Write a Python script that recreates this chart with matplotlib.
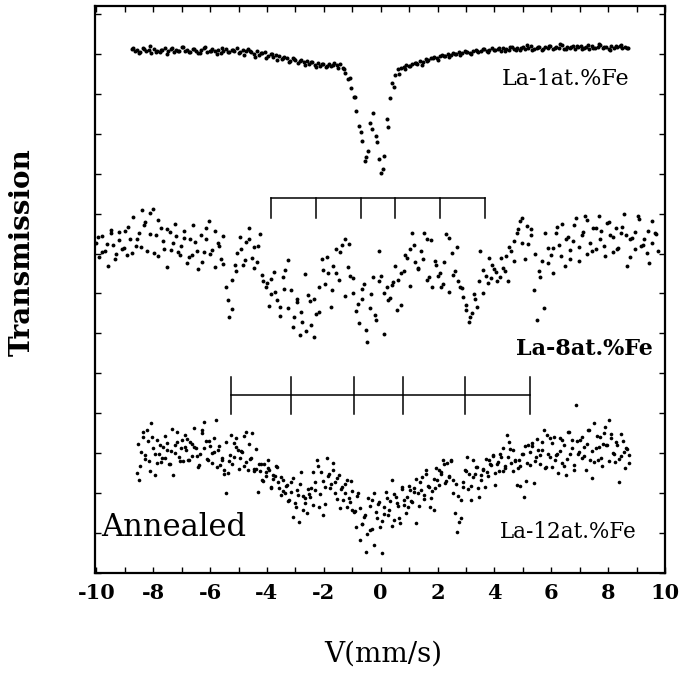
import numpy as np
import matplotlib
matplotlib.use("Agg")
import matplotlib.pyplot as plt
from matplotlib.ticker import MultipleLocator

plt.rcParams["font.family"] = "DejaVu Serif"
plt.rcParams["axes.unicode_minus"] = False

# velocity span of each sweep (mm/s); each spectrum has two sweeps (A, B)
V_1AT = (-8.75, 8.70)
V_1AT_B = (-8.70, 8.65)
V_8AT = (-10.0, 9.75)
V_8AT_B = (-9.95, 9.70)
V_12AT = (-8.57, 8.74)
V_12AT_B = (-8.55, 8.72)

# relative transmission (%), La-1at.%Fe
T_1AT = [
    99.8, 99.6, 99.7, 99.5, 99.9, 99.6, 99.7, 99.4, 99.8, 99.6,
    99.5, 99.7, 99.9, 99.6, 99.8, 99.5, 99.7, 99.6, 100.0, 99.6,
    99.7, 99.5, 99.8, 99.6, 99.4, 99.7, 99.9, 99.5, 99.6, 99.8,
    99.6, 99.7, 99.4, 99.6, 99.8, 99.5, 99.7, 99.6, 99.9, 99.5,
    99.7, 99.6, 99.8,
    99.5, 99.3, 99.6, 99.2, 99.4, 99.5, 99.1, 99.3, 99.0, 99.2,
    99.1, 98.8, 99.0, 98.9, 98.6, 98.9, 98.7, 98.4, 98.7, 98.5,
    98.6, 98.3, 98.5, 98.2, 98.4, 98.1, 98.3, 98.0, 98.3, 98.1,
    98.4, 98.2,
    98.3, 97.9, 97.4, 96.8, 95.9,
    95.0, 93.6, 92.1, 90.6, 88.6, 89.6, 92.4, 93.4, 91.1, 88.8,
    87.4, 89.1, 92.8, 94.9, 96.4, 97.2, 97.8,
    97.9, 98.0, 98.2, 98.1, 98.3, 98.4, 98.3, 98.6, 98.5, 98.8,
    98.7, 98.9, 99.0, 98.9, 99.1, 99.2, 99.1,
    99.3, 99.2, 99.4, 99.3, 99.5, 99.4, 99.6, 99.5, 99.4, 99.6,
    99.7, 99.5, 99.6, 99.8, 99.6, 99.7, 99.9, 99.7, 99.8, 99.6,
    99.9, 99.8, 99.7, 100.0, 99.8, 99.9, 99.7, 100.0, 99.8, 99.9,
    100.1, 99.8, 99.9, 100.0, 99.7, 100.0, 99.9, 100.1, 99.8, 100.0,
    99.9, 100.2, 99.8, 100.0, 99.9, 100.1, 99.8, 100.0, 100.1, 99.9,
    100.0, 99.8, 100.1, 99.9, 100.0, 100.2, 99.9, 100.0, 99.8, 100.1,
    99.9, 100.0, 100.1, 99.9, 100.0, 99.9,
]
T_1AT_B = [
    99.9, 99.4, 99.8, 100.1, 99.5, 99.7, 99.3, 99.9, 99.6, 100.0,
    99.5, 99.8, 99.4, 100.0, 99.6, 99.3, 99.9, 99.5, 99.7, 99.4,
    99.2, 99.6, 99.0, 99.4, 98.9, 99.3, 98.7, 98.9, 98.5, 98.8,
    98.6, 98.2, 98.5, 98.0, 98.3, 98.1, 98.2, 97.9, 97.8, 96.9,
    95.0, 91.5, 89.0, 91.8, 90.5, 87.8, 92.0, 96.0, 97.3, 97.8,
    98.1, 98.4, 98.2, 98.6, 98.9, 98.7, 99.1, 99.0, 99.3, 99.2,
    99.5, 99.3, 99.6, 99.8, 99.5, 99.7, 99.9, 99.6, 100.0, 99.7,
    99.9, 100.2, 99.7, 100.0, 99.8, 100.1, 99.9, 100.3, 99.8, 100.0,
    100.1, 99.8, 100.2, 99.9, 100.3, 100.0, 99.7, 100.1, 100.2, 99.9,
]

# relative transmission (%), La-8at.%Fe
T_8AT = [
    99.8, 98.4, 100.5, 99.0, 97.5, 100.8, 99.6, 98.7, 100.9, 99.2,
    101.0, 98.6, 100.2, 102.4, 99.5, 100.8, 103.1, 101.6, 99.0, 102.8,
    103.2, 100.6, 98.5, 101.3, 99.2, 97.4, 100.9, 99.8, 101.7, 98.9,
    99.5, 101.0, 97.8, 100.2, 98.6, 99.9, 97.2, 100.6, 98.9, 101.3,
    102.0, 99.1, 97.4, 99.8, 98.2, 100.5, 95.3, 92.3, 96.1, 97.6,
    98.8, 100.4, 97.6, 99.9, 101.3, 98.3, 99.4, 97.9, 100.7, 96.0,
    95.3, 93.4, 94.6, 96.9, 94.0, 93.3, 96.4, 97.1, 98.1, 95.0,
    92.3, 93.8, 90.5, 91.8, 96.7, 94.5, 91.5, 90.3, 92.6, 95.3,
    98.2, 95.6, 96.8, 93.3, 97.5, 99.2, 96.1, 99.6, 100.2, 97.4,
    96.5, 94.7, 92.9, 91.7, 94.1, 95.6, 89.8, 93.2, 96.4, 92.0,
    99.0, 96.5, 94.7, 95.3, 94.2, 95.9, 97.5, 96.1, 93.5, 97.0,
    98.3, 99.2, 100.8, 97.9, 97.2, 99.0, 100.8, 100.2, 96.4, 95.3,
    98.0, 96.5, 95.3, 95.7, 100.7, 100.3, 98.8, 97.0, 96.0, 95.3,
    94.3, 93.5, 91.8, 92.7, 94.6, 93.3, 99.0, 94.7, 96.5, 98.3,
    96.3, 97.2, 96.0, 96.4, 97.3, 98.5, 96.0, 99.0, 100.0, 100.8,
    102.0, 102.3, 98.2, 99.7, 101.2, 95.0, 92.0, 97.0, 98.0, 100.8,
    99.3, 98.6, 96.8, 100.8, 99.6, 101.7, 97.5, 100.4, 98.2, 100.0,
    102.3, 98.0, 100.6, 102.5, 98.7, 99.8, 101.3, 99.2, 102.5, 101.0,
    99.5, 101.8, 100.6, 98.9, 101.3, 99.3, 100.8, 102.7, 97.5, 100.2,
    100.3, 99.2, 102.5, 99.5, 100.2, 98.8, 97.8, 102.0, 100.8, 99.0,
]
T_8AT_B = [
    100.4, 98.9, 99.7, 101.1, 98.2, 100.1, 99.3, 101.4, 98.8, 100.2,
    99.4, 101.9, 100.7, 98.8, 102.1, 100.0, 101.2, 99.1, 100.5, 98.6,
    100.3, 98.4, 101.6, 99.0, 97.9, 100.2, 98.7, 101.0, 99.5, 97.7,
    94.0, 93.1, 97.0, 99.2, 98.1, 100.2, 97.3, 99.5, 96.6, 95.8,
    96.2, 94.8, 92.4, 95.1, 93.2, 91.3, 94.1, 92.8, 90.9, 93.9,
    94.1, 92.8, 97.1, 98.4, 95.0, 96.8, 98.9, 94.4, 99.7, 96.3,
    93.6, 95.1, 91.0, 94.6, 92.5, 96.0, 90.6, 94.0, 95.5, 93.0,
    96.8, 98.6, 95.4, 99.6, 97.3, 98.2, 96.1, 100.1, 97.6, 96.8,
    97.9, 94.8, 96.6, 99.4, 95.2, 93.0, 92.3, 94.1, 96.0, 97.1,
    95.8, 97.6, 96.9, 98.3, 97.0, 99.4, 98.0, 101.2, 99.8, 101.5,
    100.6, 98.7, 96.4, 93.2, 97.8, 99.3, 101.4, 98.5, 100.2, 99.1,
    101.6, 99.4, 100.9, 102.1, 99.0, 101.3, 100.2, 98.5, 101.9, 100.4,
    99.2, 101.4, 100.6, 98.4, 100.9, 102.2, 99.6, 101.0, 99.8, 100.7,
]

# relative transmission (%), La-12at.%Fe, annealed
T_12AT = [
    97.7, 97.0, 99.8, 101.3, 99.5, 102.0, 98.9, 102.7, 100.2, 97.5,
    101.0, 99.6, 98.8, 100.3, 99.2, 100.7, 98.6, 99.9, 97.5, 100.5,
    101.8, 99.3, 100.2, 98.9, 101.5, 100.0, 99.0, 100.8, 99.4, 100.3,
    100.2, 98.3, 99.6, 102.0, 102.8, 100.9, 99.0, 100.4, 98.7, 99.8,
    103.0, 100.0, 98.5, 99.2, 98.0, 95.7, 97.7, 99.5, 98.6, 100.7,
    101.2, 100.0, 99.2, 99.8, 98.4, 101.8, 98.0, 99.1, 101.7, 98.1,
    98.1, 95.8, 97.9, 97.0, 98.6, 97.4, 98.2, 98.0, 96.3, 97.1,
    97.4, 98.3, 96.2, 95.5, 97.0, 95.7, 96.5, 95.0, 96.8, 93.3,
    94.7, 96.0, 92.8, 97.8, 95.4, 94.7, 93.7, 95.6, 96.2, 94.5,
    96.8, 99.0, 94.3, 97.8, 93.5, 96.3, 99.2, 97.6, 96.6, 98.7,
    95.7, 97.2, 97.5, 96.1, 95.0, 96.6, 94.3, 95.2, 96.9, 94.0,
    93.8, 92.3, 95.7, 91.0, 92.6, 93.3, 89.8, 95.2, 92.0, 95.0,
    95.7, 93.8, 94.6, 92.3, 89.7, 94.3, 95.8, 93.5, 94.9, 97.0,
    93.0, 95.3, 94.4, 92.7, 96.3, 95.0, 93.7, 94.3, 96.0, 94.8,
    96.2, 92.7, 95.7, 96.8, 97.3, 95.5, 98.0, 96.4, 94.3, 95.9,
    94.0, 96.2, 97.0, 98.0, 97.6, 99.0, 96.7, 98.7, 97.3, 99.0,
    95.7, 93.7, 91.8, 92.8, 95.0, 96.3, 98.0, 99.3, 97.6, 96.4,
    99.0, 97.6, 98.3, 95.3, 97.0, 98.1, 96.3, 97.8, 99.0, 98.5,
    99.5, 96.5, 98.6, 97.9, 99.3, 100.2, 98.2, 101.5, 100.8, 98.7,
    100.0, 98.9, 96.5, 99.0, 98.4, 99.6, 95.3, 96.9, 100.5, 98.5,
    100.7, 96.7, 99.3, 100.0, 98.6, 100.8, 102.0, 98.3, 99.6, 101.2,
    98.3, 101.3, 99.5, 97.7, 99.9, 101.0, 98.4, 97.5, 101.8, 99.6,
    101.0, 98.0, 104.5, 99.6, 101.0, 99.2, 100.3, 98.0, 102.0, 99.0,
    97.2, 102.7, 100.2, 99.0, 101.3, 98.4, 100.6, 102.3, 100.5, 103.0,
    101.6, 99.7, 98.8, 100.5, 96.8, 99.4, 100.9, 98.2, 100.1, 99.5,
]
T_12AT_B = [
    100.6, 98.4, 101.8, 99.1, 100.9, 97.9, 101.3, 99.6, 98.7, 100.5,
    99.2, 101.4, 100.0, 98.6, 102.1, 99.7, 100.8, 98.9, 101.0, 100.3,
    101.1, 99.0, 100.6, 102.2, 99.4, 98.5, 101.7, 100.2, 99.1, 100.9,
    99.7, 101.2, 98.3, 100.4, 99.0, 97.6, 100.8, 98.9, 101.5, 99.3,
    100.3, 98.1, 99.9, 101.4, 98.8, 100.6, 99.2, 97.9, 100.1, 98.6,
    98.6, 96.9, 97.8, 99.0, 96.2, 97.5, 98.4, 96.8, 97.3, 95.9,
    96.4, 94.9, 95.8, 97.2, 94.3, 95.5, 96.6, 94.0, 95.2, 96.1,
    95.3, 97.8, 96.0, 98.4, 95.6, 96.9, 94.6, 97.4, 96.2, 98.0,
    96.8, 95.1, 94.2, 96.3, 95.7, 97.0, 94.8, 95.9, 93.9, 95.4,
    94.2, 92.6, 93.5, 91.6, 94.4, 92.1, 90.5, 93.2, 94.8, 92.9,
    93.6, 95.2, 94.0, 92.4, 95.6, 94.7, 93.2, 96.1, 94.5, 95.3,
    96.4, 94.9, 95.8, 97.1, 94.4, 96.0, 95.1, 97.6, 96.3, 95.2,
    97.1, 98.2, 96.5, 97.8, 98.6, 96.9, 97.4, 98.9, 97.0, 96.6,
    95.4, 93.2, 96.8, 97.9, 96.1, 95.0, 97.3, 98.3, 96.2, 97.5,
    98.0, 99.1, 97.4, 98.6, 99.4, 97.7, 98.8, 99.6, 97.9, 98.4,
    99.3, 100.1, 97.9, 99.0, 98.2, 96.4, 99.6, 100.4, 98.7, 99.8,
    100.4, 98.9, 101.1, 99.5, 100.0, 98.2, 101.5, 99.3, 100.7, 99.0,
    99.6, 101.2, 98.7, 100.5, 99.1, 101.8, 100.2, 98.5, 100.9, 99.8,
    101.3, 99.4, 100.6, 102.0, 99.9, 98.8, 101.4, 100.3, 99.2, 101.7,
    100.5, 98.9, 101.2, 99.6, 100.8, 99.1, 101.6, 99.8, 100.2, 98.7,
]

# sextet line positions (mm/s)
LINES_8AT = [-3.85, -2.27, -0.70, 0.52, 2.10, 3.67]
LINES_12AT = [-5.28, -3.15, -0.94, 0.80, 2.97, 5.24]

# vertical stacking of the three spectra
OFF_1AT = -47.3
OFF_8AT = -66.7
OFF_12AT = -87.7

fig = plt.figure(figsize=(6.81, 6.73), dpi=100)
ax = fig.add_axes([0.1395, 0.1486, 0.837, 0.8425])

sweeps = [
    (V_1AT, T_1AT, OFF_1AT, 2.9),
    (V_1AT_B, T_1AT_B, OFF_1AT, 2.9),
    (V_8AT, T_8AT, OFF_8AT, 2.8),
    (V_8AT_B, T_8AT_B, OFF_8AT, 2.8),
    (V_12AT, T_12AT, OFF_12AT, 2.6),
    (V_12AT_B, T_12AT_B, OFF_12AT, 2.6),
]
for (v0, v1), t, off, ms in sweeps:
    v = np.linspace(v0, v1, len(t))
    ax.plot(v, np.array(t) + off, "o", color="black", ms=ms, mew=0)

# line-position combs
comb_y = 104.3 + OFF_8AT
ax.plot([LINES_8AT[0], LINES_8AT[-1]], [comb_y, comb_y], color="black", lw=1.1)
for p in LINES_8AT:
    ax.plot([p, p], [comb_y, comb_y - 2.0], color="black", lw=1.1)

comb_y = 105.5 + OFF_12AT
ax.plot([LINES_12AT[0], LINES_12AT[-1]], [comb_y, comb_y], color="black", lw=1.1)
for p in LINES_12AT:
    ax.plot([p, p], [comb_y - 1.9, comb_y + 1.8], color="black", lw=1.1)

ax.set_xlim(-10.05, 9.9)
ax.set_ylim(0, 56.8)
ax.set_xticks(np.arange(-10, 11, 2))
ax.xaxis.set_minor_locator(MultipleLocator(1))
ax.yaxis.set_major_locator(MultipleLocator(4))
ax.set_yticklabels([])
ax.tick_params(axis="both", which="both", direction="in", top=True, right=True,
               length=4, width=1)
ax.tick_params(axis="x", pad=7, labelsize=15)
for lab in ax.get_xticklabels():
    lab.set_fontweight("bold")
for s in ax.spines.values():
    s.set_linewidth(1.6)

ax.text(8.74, 49.5, "La-1at.%Fe", ha="right", va="center", fontsize=16)
ax.text(9.58, 22.4, "La-8at.%Fe", ha="right", va="center", fontsize=16,
        fontweight="semibold")
ax.text(8.99, 4.1, "La-12at.%Fe", ha="right", va="center", fontsize=15.5)
ax.text(-9.83, 4.6, "Annealed", ha="left", va="center", fontsize=22)

fig.text(22 / 681, 1 - 252 / 673, "Transmission", rotation=90, ha="center",
         va="center", fontsize=20, fontweight="bold")
fig.text(383 / 681, 1 - 654 / 673, "V(mm/s)", ha="center", va="center",
         fontsize=20)

fig.savefig("out.png", dpi=100)
